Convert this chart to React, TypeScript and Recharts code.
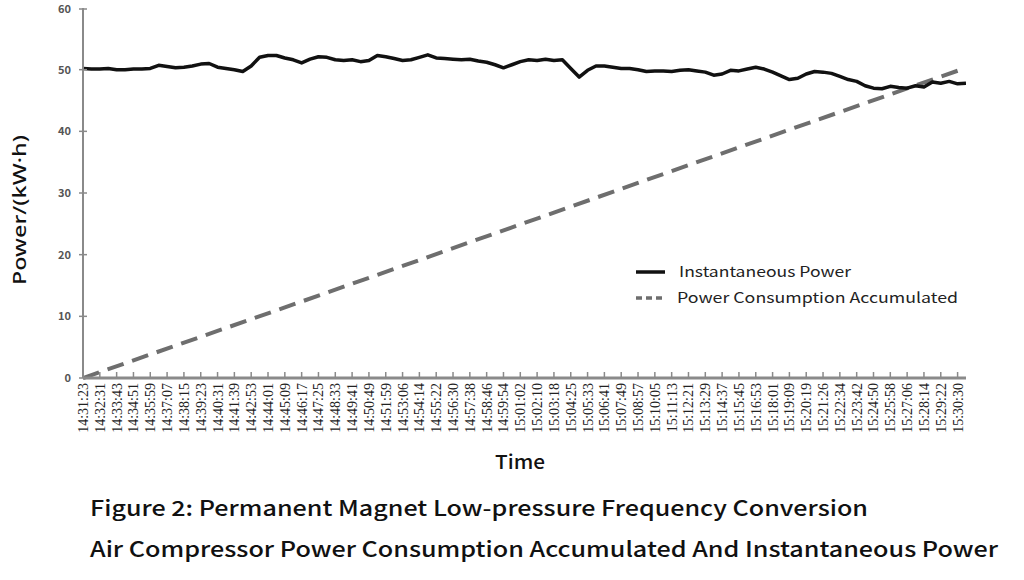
import { LineChart, Line, XAxis, YAxis } from 'recharts';

// x-axis category labels (one tick per label)
const timeLabels = [
  '14:31:23', '14:32:31', '14:33:43', '14:34:51', '14:35:59', '14:37:07', '14:38:15', '14:39:23',
  '14:40:31', '14:41:39', '14:42:53', '14:44:01', '14:45:09', '14:46:17', '14:47:25', '14:48:33',
  '14:49:41', '14:50:49', '14:51:59', '14:53:06', '14:54:14', '14:55:22', '14:56:30', '14:57:38',
  '14:58:46', '14:59:54', '15:01:02', '15:02:10', '15:03:18', '15:04:25', '15:05:33', '15:06:41',
  '15:07:49', '15:08:57', '15:10:05', '15:11:13', '15:12:21', '15:13:29', '15:14:37', '15:15:45',
  '15:16:53', '15:18:01', '15:19:09', '15:20:19', '15:21:26', '15:22:34', '15:23:42', '15:24:50',
  '15:25:58', '15:27:06', '15:28:14', '15:29:22', '15:30:30',
];

// instantaneous power, sampled every half tick
const SAMPLE_STEP = 0.5;
const instPower = [
  50.2, 50.1, 50.1, 50.2, 50.0, 50.0, 50.1, 50.1, 50.2, 50.7,
  50.5, 50.3, 50.4, 50.6, 50.9, 51.0, 50.4, 50.2, 50.0, 49.7,
  50.6, 52.0, 52.3, 52.3, 51.9, 51.6, 51.1, 51.7, 52.1, 52.0,
  51.6, 51.5, 51.6, 51.3, 51.5, 52.3, 52.1, 51.8, 51.5, 51.6,
  52.0, 52.4, 51.9, 51.8, 51.7, 51.6, 51.7, 51.4, 51.2, 50.8,
  50.3, 50.8, 51.3, 51.6, 51.5, 51.7, 51.5, 51.6, 50.2, 48.8,
  49.9, 50.6, 50.6, 50.4, 50.2, 50.2, 50.0, 49.7, 49.8, 49.8,
  49.7, 49.9, 50.0, 49.8, 49.6, 49.1, 49.3, 49.9, 49.8, 50.1,
  50.4, 50.1, 49.6, 49.0, 48.4, 48.6, 49.3, 49.7, 49.6, 49.4,
  48.9, 48.4, 48.1, 47.4, 47.0, 46.9, 47.3, 47.1, 47.0, 47.4,
  47.2, 48.0, 47.8, 48.1, 47.7, 47.8,
];

// accumulated consumption
const accumTimes = [0, 13, 26, 39, 52.5];
const accumPower = [0, 12.4, 24.9, 37.4, 50.3];

const yTicks = [0, 10, 20, 30, 40, 50, 60];

const instData = instPower.map((v, i) => ({ t: i * SAMPLE_STEP, v }));
const accumData = accumTimes.map((t, i) => ({ t, v: accumPower[i] }));

const AXIS_GRAY = '#8a8a8a';
const SANS = "'Noto Sans CJK SC', 'Noto Sans', sans-serif";

const XTick = ({ x, y, payload }: any) => (
  <g transform={`translate(${x},${y})`}>
    <line x1={0} y1={-6} x2={0} y2={0} stroke={AXIS_GRAY} strokeWidth={1.5} />
    <text
      transform="rotate(-90)"
      x={-5}
      y={5}
      textAnchor="end"
      fontFamily="'Liberation Serif', serif"
      fontSize={14}
      fill="#222"
    >
      {timeLabels[payload.value]}
    </text>
  </g>
);

const YTick = ({ x, y, payload }: any) => (
  <g>
    <line x1={x - 4} y1={y} x2={x + 4} y2={y} stroke={AXIS_GRAY} strokeWidth={1.5} />
    <text x={x - 12} y={y + 4} textAnchor="end" fontFamily={SANS} fontWeight={700} fontSize={11} fill="#555">
      {payload.value}
    </text>
  </g>
);

export default function App() {
  return (
    <div style={{ position: 'absolute', left: 0, top: 0, width: 1024, height: 580, background: '#fff' }}>
      <LineChart width={1024} height={440} margin={{ top: 8, right: 58, left: 0, bottom: 0 }}>
        <XAxis
          dataKey="t"
          type="number"
          domain={[0, 52.5]}
          ticks={timeLabels.map((_, i) => i)}
          interval={0}
          allowDataOverflow
          height={62}
          tickSize={0}
          tickMargin={0}
          tick={<XTick />}
          axisLine={{ stroke: AXIS_GRAY, strokeWidth: 3 }}
        />
        <YAxis
          type="number"
          domain={[0, 60]}
          ticks={yTicks}
          width={83}
          tickSize={0}
          tickMargin={0}
          tick={<YTick />}
          axisLine={{ stroke: AXIS_GRAY, strokeWidth: 2 }}
        />
        <Line
          data={accumData}
          dataKey="v"
          name="Power Consumption Accumulated"
          type="linear"
          stroke="#6e6e6e"
          strokeWidth={4}
          strokeDasharray="17 9"
          dot={false}
          isAnimationActive={false}
        />
        <Line
          data={instData}
          dataKey="v"
          name="Instantaneous Power"
          type="linear"
          stroke="#111"
          strokeWidth={3.5}
          strokeLinejoin="round"
          dot={false}
          isAnimationActive={false}
        />
      </LineChart>
      <svg width={1024} height={580} style={{ position: 'absolute', left: 0, top: 0, pointerEvents: 'none' }}>
        {/* legend */}
        <line x1={636} y1={272} x2={665} y2={272} stroke="#111" strokeWidth={3.5} />
        <text x={679} y={277} fontFamily={SANS} fontSize={14.5} fill="#222" textLength={172} lengthAdjust="spacingAndGlyphs">
          Instantaneous Power
        </text>
        <line x1={636} y1={298} x2={665} y2={298} stroke="#6e6e6e" strokeWidth={3.5} strokeDasharray="6 4" />
        <text x={677} y={303} fontFamily={SANS} fontSize={14.5} fill="#222" textLength={281} lengthAdjust="spacingAndGlyphs">
          Power Consumption Accumulated
        </text>

        <text
          transform="translate(26,210) rotate(-90)"
          textAnchor="middle"
          fontFamily="'Noto Sans', sans-serif"
          fontWeight={500}
          fontSize={18}
          fill="#111"
          textLength={150}
          lengthAdjust="spacingAndGlyphs"
        >
          Power/(kW·h)
        </text>
        <text x={495} y={469} fontFamily={SANS} fontWeight={500} fontSize={19} fill="#111" textLength={50} lengthAdjust="spacingAndGlyphs">
          Time
        </text>
        <text x={90} y={516} fontFamily={SANS} fontWeight={500} fontSize={21} fill="#111" textLength={778} lengthAdjust="spacingAndGlyphs">
          Figure 2: Permanent Magnet Low-pressure Frequency Conversion
        </text>
        <text x={90} y={557} fontFamily={SANS} fontWeight={500} fontSize={21} fill="#111" textLength={908} lengthAdjust="spacingAndGlyphs">
          Air Compressor Power Consumption Accumulated And Instantaneous Power
        </text>
      </svg>
    </div>
  );
}
